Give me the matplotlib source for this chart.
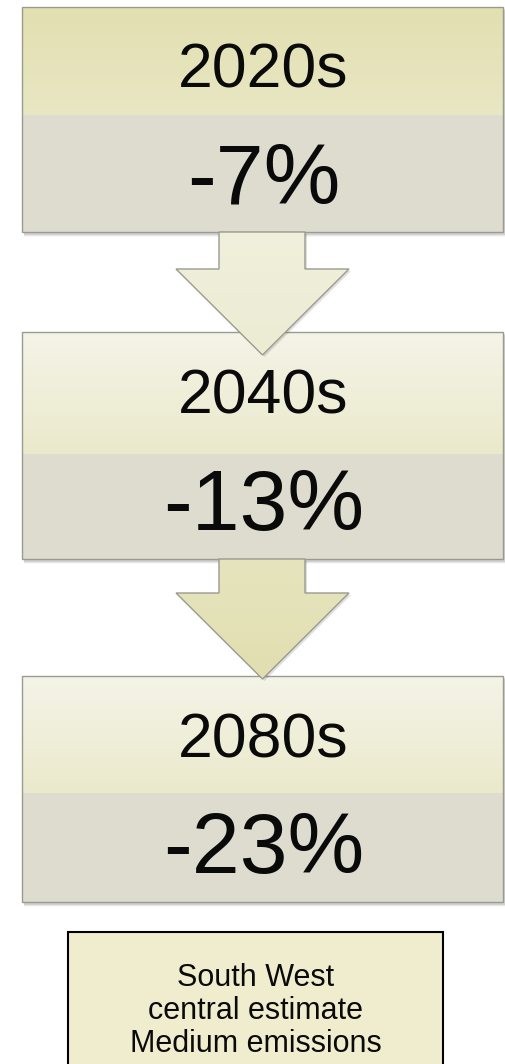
import numpy as np
import matplotlib.pyplot as plt
from matplotlib.patches import Rectangle, Polygon
from matplotlib.colors import LinearSegmentedColormap

plt.rcParams['font.family'] = ['Liberation Sans', 'DejaVu Sans']

# Data
periods = ['2020s', '2040s', '2080s']
changes = [-7, -13, -23]
note_lines = ['South West', 'central estimate', 'Medium emissions']

# Layout (pixels, y downwards)
box_left, box_right = 22, 503
box_tops = [7, 332, 676]
box_splits = [115, 454, 793]
box_bottoms = [232, 559, 902]
top_colors = [('#e2dfb0', '#e9e7c4'), ('#f4f4e8', '#ebe9cb'), ('#f4f4e8', '#ebe9cb')]
arrow_colors = [('#f0f0dc', '#ecebd3'), ('#e6e4bd', '#e1dfb0')]
gray = '#dddccf'
edge = '#9a9a90'

fig = plt.figure(figsize=(5.06, 10.64), dpi=100)
ax = fig.add_axes([0, 0, 1, 1])
ax.set_xlim(0, 506)
ax.set_ylim(1064, 0)
ax.axis('off')


def gradient_fill(patch, c1, c2, extent, z):
    cmap = LinearSegmentedColormap.from_list('g', [c1, c2])
    grad = np.linspace(0, 1, 256).reshape(-1, 1)
    im = ax.imshow(grad, cmap=cmap, extent=extent, aspect='auto', zorder=z,
                   interpolation='bilinear')
    im.set_clip_path(patch)


cx_box = (box_left + box_right) / 2 + 1
for i in range(len(periods)):
    t, s, b = box_tops[i], box_splits[i], box_bottoms[i]
    w = box_right - box_left
    # soft shadow
    for k, a in enumerate([0.10, 0.06, 0.03]):
        ax.add_patch(Rectangle((box_left + 2, t + 2 + k), w, b - t + 1,
                               facecolor='black', alpha=a, lw=0, zorder=1))
    top = Rectangle((box_left, t), w, s - t, facecolor='none', lw=0, zorder=2)
    ax.add_patch(top)
    gradient_fill(top, top_colors[i][0], top_colors[i][1],
                  (box_left, box_right, s, t), 2)
    ax.add_patch(Rectangle((box_left, s), w, b - s, facecolor=gray, lw=0, zorder=2))
    ax.add_patch(Rectangle((box_left, t), w, b - t, facecolor='none',
                           edgecolor=edge, lw=1.0, zorder=3))
    ax.text(cx_box, t + 81, periods[i], ha='center', va='baseline',
            fontsize=45, color='#0a0a0a', zorder=6)
    ax.text(cx_box, b - 29, f'{changes[i]}%', ha='center', va='baseline',
            fontsize=62, color='#0a0a0a', zorder=6)

# Arrows between boxes
shaft_l, shaft_r = 219, 305
head_l, head_r = 176, 349
cx = (head_l + head_r) / 2
for i in range(len(periods) - 1):
    y0 = box_bottoms[i]
    y_head = y0 + (37 if i == 0 else 34)
    y_tip = box_tops[i + 1] + (23 if i == 0 else 3)
    pts = [(shaft_l, y0), (shaft_r, y0), (shaft_r, y_head), (head_r, y_head),
           (cx, y_tip), (head_l, y_head), (shaft_l, y_head)]
    shadow = Polygon([(x + 2, y + 2) for x, y in pts], closed=True,
                     facecolor='black', alpha=0.12, lw=0, zorder=4)
    ax.add_patch(shadow)
    arr = Polygon(pts, closed=True, facecolor='none', lw=0, zorder=5)
    ax.add_patch(arr)
    gradient_fill(arr, arrow_colors[i][0], arrow_colors[i][1],
                  (head_l, head_r, y_tip, y0), 5)
    ax.add_patch(Polygon(pts, closed=True, facecolor='none', edgecolor=edge,
                         lw=1.0, zorder=5.5))

# Note box
ax.add_patch(Rectangle((68, 932), 375, 140, facecolor='#f0edcf',
                       edgecolor='black', lw=1.5, zorder=2))
note_baselines = [986, 1019, 1052]
for line, yb in zip(note_lines, note_baselines):
    ax.text(255.5, yb, line, ha='center', va='baseline',
            fontsize=22, color='#0a0a0a', zorder=3)

fig.savefig('out.png', dpi=100)
